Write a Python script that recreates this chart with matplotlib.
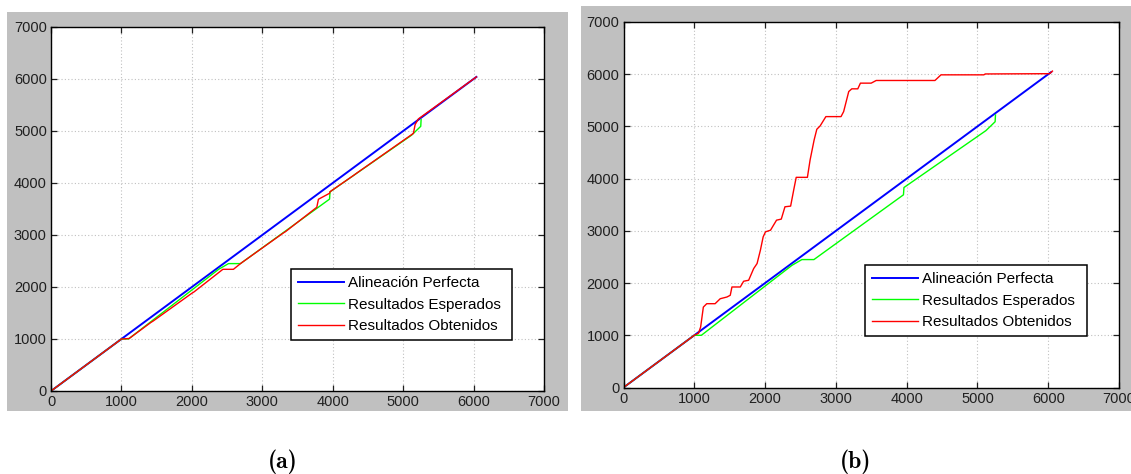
import numpy as np
import matplotlib
matplotlib.use('Agg')
import matplotlib.pyplot as plt
from matplotlib.patches import Rectangle

plt.rcParams['font.family'] = ['Liberation Sans', 'DejaVu Sans']

# reference diagonal
perf_x = [0, 6040]
perf_y = [0, 6040]

# expected alignment (same ground truth in both panels)
esp_x = [0, 1000, 1100, 2380, 2520, 2690, 3955, 3962, 5120, 5250, 5255]
esp_y = [0, 1000, 1000, 2340, 2450, 2450, 3690, 3830, 4920, 5090, 5220]

# obtained alignment, panel a
obt_a_x = [0, 1000, 1060, 1110, 1420, 1450, 2000, 2030, 2440, 2590, 2700,
           3300, 3330, 3774, 3797, 3955, 3962, 4300, 4330, 5120, 5146, 5170,
           5217, 6040]
obt_a_y = [0, 1000, 1005, 1010, 1320, 1345, 1880, 1905, 2340, 2340, 2460,
           3040, 3065, 3533, 3687, 3802, 3833, 4150, 4180, 4930, 4955, 5123,
           5233, 6040]

# obtained alignment, panel b
obt_b_x = [0, 1000, 1060, 1090, 1128, 1176, 1294, 1366, 1461, 1508, 1532,
           1650, 1697, 1768, 1839, 1887, 1934, 1973, 2006, 2077, 2162, 2229,
           2281, 2361, 2409, 2440, 2598, 2636, 2693, 2731, 2778, 2859, 3073,
           3110, 3182, 3225, 3310, 3347, 3499, 3570, 4400, 4485, 5090, 5111,
           6020, 6060]
obt_b_y = [0, 1000, 1040, 1160, 1540, 1605, 1605, 1700, 1733, 1766, 1925,
           1925, 2035, 2054, 2278, 2374, 2630, 2885, 2981, 3013, 3205, 3225,
           3461, 3474, 3814, 4025, 4025, 4357, 4741, 4946, 5010, 5188, 5188,
           5284, 5668, 5720, 5720, 5829, 5829, 5880, 5880, 5988, 5988, 6005,
           6010, 6060]

labels = ['Alineación Perfecta', 'Resultados Esperados', 'Resultados Obtenidos']
ticks = np.arange(0, 7001, 1000)
panel_names = ['(a)', '(b)']

W, H = 1131, 474
fig = plt.figure(figsize=(W / 100, H / 100), dpi=100)
fig.patch.set_facecolor('white')

# grey window backgrounds (pixel boxes: x0, y0_top, x1, y1_bottom)
for x0, y0, x1, y1 in [(7, 12, 568, 411), (581, 6, 1131, 411)]:
    fig.patches.append(Rectangle((x0 / W, 1 - y1 / H), (x1 - x0) / W, (y1 - y0) / H,
                                 transform=fig.transFigure, facecolor='#c0c0c0',
                                 edgecolor='none', zorder=-5))

ax_boxes = [(51, 27, 544, 391), (623.5, 22, 1119, 387.5)]
red_x = [obt_a_x, obt_b_x]
red_y = [obt_a_y, obt_b_y]
label_x = [283, 856]

for i, (x0, y0, x1, y1) in enumerate(ax_boxes):
    ax = fig.add_axes([x0 / W, 1 - y1 / H, (x1 - x0) / W, (y1 - y0) / H])
    ax.set_zorder(2)
    ax.set_facecolor('white')
    ax.plot(perf_x, perf_y, color='#0000ff', lw=1.4, label=labels[0])
    ax.plot(esp_x, esp_y, color='#00ff00', lw=1.0, label=labels[1])
    ax.plot(red_x[i], red_y[i], color='#ff0000', lw=1.0, label=labels[2])
    ax.set_xlim(0, 7000)
    ax.set_ylim(0, 7000)
    ax.set_xticks(ticks)
    ax.set_yticks(ticks)
    ax.grid(True, color='#c0c0c0', linestyle=(0, (1, 2)), lw=0.8)
    ax.tick_params(direction='in', length=4, width=0.9, top=True, right=True,
                   labelsize=10.5, pad=3, colors='#202020')
    for s in ax.spines.values():
        s.set_linewidth(1.0)
        s.set_color('black')
    leg = ax.legend(loc='lower left', bbox_to_anchor=(0.487, 0.14, 0.448, 0.195),
                    mode='expand', fontsize=11, fancybox=False, framealpha=1,
                    edgecolor='black', borderaxespad=0, borderpad=0.45,
                    handlelength=3.0, handletextpad=0.3, labelspacing=0.5)
    leg.get_frame().set_linewidth(1.1)
    fig.text(label_x[i] / W, 1 - 462 / H, panel_names[i], ha='center', va='center',
             fontsize=17, family='cmb10')

fig.savefig('out.png', dpi=100)
